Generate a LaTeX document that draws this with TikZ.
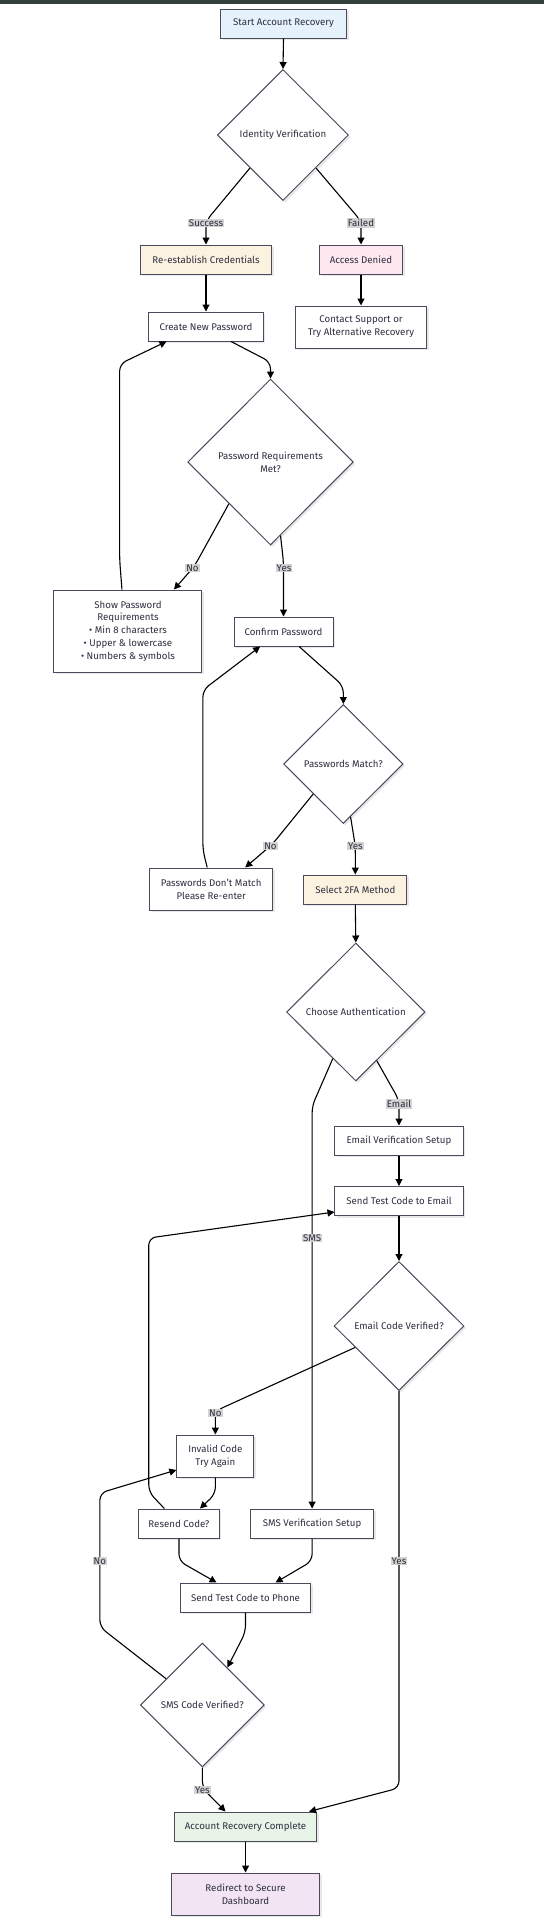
\documentclass[tikz,border=0pt]{standalone}
\usepackage{fontspec}
\setmainfont{Fira Sans}
\usetikzlibrary{shapes.geometric,arrows.meta,calc,shadows}
\definecolor{ink}{HTML}{2E2E40}
\definecolor{bord}{HTML}{4A4A5C}
\definecolor{lblbg}{HTML}{D3D3D3}
\definecolor{cblue}{HTML}{E5F2FC}
\definecolor{ccream}{HTML}{FCF2E0}
\definecolor{cpink}{HTML}{FCE8EE}
\definecolor{cgreen}{HTML}{E8F4E8}
\definecolor{cpurple}{HTML}{F2E4F2}
\definecolor{topbar}{HTML}{36403A}
\tikzset{
  every node/.style={font=\fontsize{9.7}{12.8}\selectfont, text=ink},
  box/.style={draw=bord, line width=1pt, fill=white, rectangle, inner sep=0pt, align=center,
    drop shadow={opacity=0.18, shadow xshift=2pt, shadow yshift=-2pt}},
  dia/.style={draw=bord, line width=1pt, fill=white, diamond, inner sep=0pt, align=center,
    drop shadow={opacity=0.18, shadow xshift=2pt, shadow yshift=-2pt}},
  lbl/.style={fill=lblbg, inner sep=1pt, font=\fontsize{9.7}{11}\selectfont},
  conn/.style={draw=black, line width=1.1pt, rounded corners=7pt, -{Triangle[length=7pt,width=7pt]}},
}
\begin{document}
\begin{tikzpicture}[x=1.0404pt,y=-1pt]
\useasboundingbox (0,0) rectangle (522.88,1920);
\fill[topbar] (0,0) rectangle (522.88,3.5);

% nodes
\node[box, fill=cblue, minimum width=126pt, minimum height=29pt] (start) at (272.5,23.5) {Start Account Recovery};
\node[dia, minimum width=131pt, minimum height=131pt] (ident) at (272,135) {Identity Verification};
\node[box, fill=ccream, minimum width=131pt, minimum height=29pt] (reest) at (198,259.5) {Re-establish Credentials};
\node[box, fill=cpink, minimum width=83pt, minimum height=29pt] (denied) at (347,259.5) {Access Denied};
\node[box, minimum width=114.5pt, minimum height=29pt] (create) at (198,326.5) {Create New Password};
\node[box, minimum width=131pt, minimum height=42pt] (contact) at (347,327) {Contact Support or\\Try Alternative Recovery};
\node[dia, minimum width=165.5pt, minimum height=166pt] (pwreq) at (260,462) {Password Requirements\\Met?};
\node[box, minimum width=148pt, minimum height=82pt] (showpw) at (123,631) {Show Password\\Requirements\\• Min 8 characters\\• Upper \& lowercase\\• Numbers \& symbols};
\node[box, minimum width=99pt, minimum height=29pt] (confirm) at (272.5,631.5) {Confirm Password};
\node[dia, minimum width=119.5pt, minimum height=119pt] (match) at (330,764) {Passwords Match?};
\node[box, minimum width=123pt, minimum height=42pt] (dontmatch) at (203,889) {Passwords Don't Match\\Please Re-enter};
\node[box, fill=ccream, minimum width=103pt, minimum height=29pt] (select) at (341.5,889.5) {Select 2FA Method};
\node[dia, minimum width=138.5pt, minimum height=138pt] (choose) at (342,1012) {Choose Authentication};
\node[box, minimum width=128pt, minimum height=29pt] (emailsetup) at (383.5,1140.5) {Email Verification Setup};
\node[box, minimum width=128pt, minimum height=29pt] (sendemail) at (383.5,1201) {Send Test Code to Email};
\node[dia, minimum width=130pt, minimum height=129pt] (emailver) at (383.5,1326) {Email Code Verified?};
\node[box, minimum width=77pt, minimum height=42pt] (invalid) at (207,1456) {Invalid Code\\Try Again};
\node[box, minimum width=81pt, minimum height=29pt] (resend) at (172,1523.5) {Resend Code?};
\node[box, minimum width=123pt, minimum height=29pt] (smssetup) at (300,1523.5) {SMS Verification Setup};
\node[box, minimum width=130pt, minimum height=29pt] (sendphone) at (236,1597.5) {Send Test Code to Phone};
\node[dia, minimum width=124pt, minimum height=124pt] (smsver) at (194.5,1705) {SMS Code Verified?};
\node[box, fill=cgreen, minimum width=142.5pt, minimum height=29pt] (complete) at (236,1826.5) {Account Recovery Complete};
\node[box, fill=cpurple, minimum width=148pt, minimum height=42pt] (redirect) at (236,1894) {Redirect to Secure\\Dashboard};

% helper points on diamond sides
\coordinate (pwreqYes) at ($(pwreq.south)!0.12!(pwreq.east)$);
\coordinate (matchYes) at ($(match.south)!0.12!(match.east)$);
\coordinate (chooseE) at ($(choose.south)!0.3!(choose.east)$);
\coordinate (chooseS) at ($(choose.south)!0.33!(choose.west)$);
\coordinate (emailNo) at ($(emailver.west)!0.33!(emailver.south)$);
\coordinate (smsNo) at ($(smsver.west)!0.42!(smsver.north)$);
\coordinate (smsIn) at ($(smsver.north)!0.4!(smsver.east)$);

% connectors
\draw[conn] (start.south) -- (ident.north);
\draw[conn] (ident.south west) -- (198,221) -- (reest.north);
\draw[conn] (ident.south east) -- (347,221) -- (denied.north);
\draw[conn] (reest.south) -- (create.north);
\draw[conn] (denied.south) -- (contact.north);
\draw[conn] ([xshift=25pt]create.south) -- (260,362) -- (pwreq.north);
\draw[conn] (pwreq.south west) -- (187,566) -- ([xshift=46pt]showpw.north);
\draw[conn] (pwreqYes) -- (272.5,562) -- (confirm.north);
\draw[conn] ([xshift=-6pt]showpw.north) -- (115,560) -- (115,364) -- ([xshift=-39.5pt]create.south);
\draw[conn] ([xshift=15.6pt]confirm.south) -- (330,686) -- (match.north);
\draw[conn] (match.south west) -- (262,844) -- ([xshift=34pt]dontmatch.north);
\draw[conn] (matchYes) -- (341.5,846) -- (select.north);
\draw[conn] ([xshift=-4pt]dontmatch.north) -- (195,850) -- (195,690) -- ([xshift=-23.4pt]confirm.south);
\draw[conn] (select.south) -- (choose.north);
\draw[conn] (chooseE) -- (383.5,1100) -- (emailsetup.north);
\draw[conn] (chooseS) -- (300,1106) -- (smssetup.north);
\draw[conn] (emailsetup.south) -- (sendemail.north);
\draw[conn] (sendemail.south) -- (emailver.north);
\draw[conn] (emailNo) -- (207,1411) -- (invalid.north);
\draw[conn] (emailver.south) -- (383.5,1788) -- ([xshift=63.5pt]complete.north);
\draw[conn] (invalid.south) -- (207,1494) -- ([xshift=21pt]resend.north);
\draw[conn] ([xshift=-14.6pt]resend.north) -- (143,1492) -- (143,1238) -- ([yshift=-11pt]sendemail.west);
\draw[conn] (smsNo) -- (96,1627) -- (96,1493) -- ([yshift=-14pt]invalid.west);
\draw[conn] (resend.south) -- (172,1561) -- ([xshift=-29pt]sendphone.north);
\draw[conn] (smssetup.south) -- (300,1561) -- ([xshift=30pt]sendphone.north);
\draw[conn] (sendphone.south) -- (236,1632) -- (smsIn);
\draw[conn] (smsver.south) -- (194.5,1788) -- ([xshift=-20pt]complete.north);
\draw[conn] (complete.south) -- (redirect.north);

% labels
\node[lbl] (lSuccess) at (198,223) {Success};
\node[lbl] (lFailed) at (347,223) {Failed};
\node[lbl] (lNo1) at (185,568) {No};
\node[lbl] (lYes1) at (273,568) {Yes};
\node[lbl] (lNo2) at (260,846) {No};
\node[lbl] (lYes2) at (341.5,846) {Yes};
\node[lbl] (lEmail) at (383.5,1104) {Email};
\node[lbl] (lSMS) at (300,1238) {SMS};
\node[lbl] (lNo3) at (207,1413) {No};
\node[lbl] (lNo4) at (96,1561) {No};
\node[lbl] (lYes3) at (383.5,1561) {Yes};
\node[lbl] (lYes4) at (194.5,1790) {Yes};
\end{tikzpicture}
\end{document}
